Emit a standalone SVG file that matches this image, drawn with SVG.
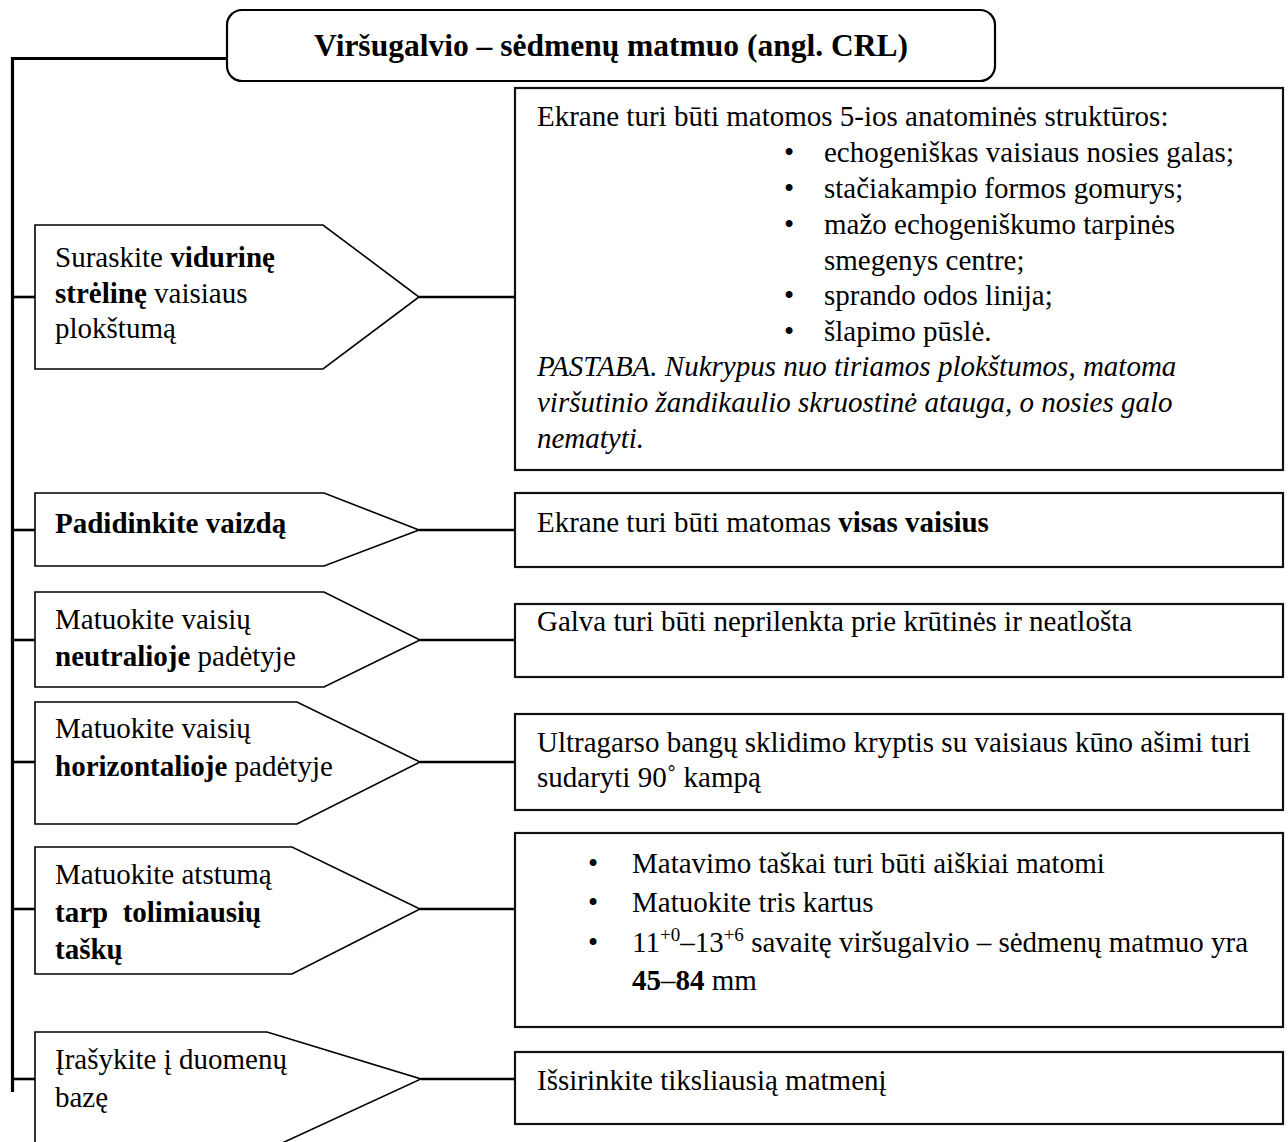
<svg xmlns="http://www.w3.org/2000/svg" width="1288" height="1142" viewBox="0 0 1288 1142">
<style>
text{font-family:"Liberation Serif","Times New Roman",serif;font-size:29px;fill:#000}
.b{font-weight:bold}
.i{font-style:italic}
.title{font-size:31.5px;font-weight:bold}
.step{fill:#fff;stroke:#000;stroke-width:1.6}
.box{fill:#fff;stroke:#111;stroke-width:2.2}
.conn{stroke:#000;stroke-width:2.6;fill:none}
.trunk{stroke:#000;stroke-width:3.2;fill:none}
.pre{white-space:pre}
</style>
<rect width="1288" height="1142" fill="#fff"/>
<g id="connectors">
<polyline class="trunk" points="227,58.5 12.5,58.5 12.5,1092"/>
<line class="conn" x1="12" y1="297" x2="36" y2="297"/>
<line class="conn" x1="419" y1="297" x2="515" y2="297"/>
<line class="conn" x1="12" y1="530" x2="36" y2="530"/>
<line class="conn" x1="419" y1="530" x2="515" y2="530"/>
<line class="conn" x1="12" y1="640" x2="36" y2="640"/>
<line class="conn" x1="420" y1="640" x2="515" y2="640"/>
<line class="conn" x1="12" y1="762" x2="36" y2="762"/>
<line class="conn" x1="420" y1="762" x2="515" y2="762"/>
<line class="conn" x1="12" y1="909" x2="36" y2="909"/>
<line class="conn" x1="420" y1="909" x2="515" y2="909"/>
<line class="conn" x1="12" y1="1079" x2="36" y2="1079"/>
<line class="conn" x1="421" y1="1079" x2="515" y2="1079"/>
</g>
<g id="title">
<rect x="227" y="10" width="768" height="71" rx="15" ry="15" fill="#fff" stroke="#000" stroke-width="2.2"/>
<text class="title" x="611" y="56" text-anchor="middle">Viršugalvio – sėdmenų matmuo (angl. CRL)</text>
</g>
<g id="step1">
<polygon class="step" points="35,225 323,225 419,297 323,369 35,369"/>
<text x="55" y="267">Suraskite <tspan class="b">vidurinę</tspan></text>
<text x="55" y="303"><tspan class="b">strėlinę</tspan> vaisiaus</text>
<text x="55" y="338">plokštumą</text>
</g>
<g id="note1">
<rect class="box" x="515" y="88" width="768" height="382"/>
<text x="537" y="126">Ekrane turi būti matomos 5-ios anatominės struktūros:</text>
<text x="784" y="162">•</text><text x="824" y="162">echogeniškas vaisiaus nosies galas;</text>
<text x="784" y="198">•</text><text x="824" y="198">stačiakampio formos gomurys;</text>
<text x="784" y="234">•</text><text x="824" y="234">mažo echogeniškumo tarpinės</text>
<text x="824" y="270">smegenys centre;</text>
<text x="784" y="305">•</text><text x="824" y="305">sprando odos linija;</text>
<text x="784" y="341">•</text><text x="824" y="341">šlapimo pūslė.</text>
<text class="i" x="537" y="376">PASTABA. Nukrypus nuo tiriamos plokštumos, matoma</text>
<text class="i" x="537" y="412">viršutinio žandikaulio skruostinė atauga, o nosies galo</text>
<text class="i" x="537" y="448">nematyti.</text>
</g>
<g id="step2">
<polygon class="step" points="35,493 324,493 419,530 324,566 35,566"/>
<text class="b" x="55" y="533">Padidinkite vaizdą</text>
</g>
<g id="note2">
<rect class="box" x="515" y="493" width="768" height="74"/>
<text x="537" y="532">Ekrane turi būti matomas <tspan class="b">visas vaisius</tspan></text>
</g>
<g id="step3">
<polygon class="step" points="35,592 324,592 420,640 324,687 35,687"/>
<text x="55" y="629">Matuokite vaisių</text>
<text x="55" y="666"><tspan class="b">neutralioje</tspan> padėtyje</text>
</g>
<g id="note3">
<rect class="box" x="515" y="604" width="768" height="73"/>
<text x="537" y="631">Galva turi būti neprilenkta prie krūtinės ir neatlošta</text>
</g>
<g id="step4">
<polygon class="step" points="35,702 297,702 420,762 297,824 35,824"/>
<text x="55" y="738">Matuokite vaisių</text>
<text x="55" y="776"><tspan class="b">horizontalioje</tspan> padėtyje</text>
</g>
<g id="note4">
<rect class="box" x="515" y="714" width="768" height="96"/>
<text x="537" y="752">Ultragarso bangų sklidimo kryptis su vaisiaus kūno ašimi turi</text>
<text x="537" y="787">sudaryti 90˚ kampą</text>
</g>
<g id="step5">
<polygon class="step" points="35,847 292,847 420,909 292,974 35,974"/>
<text x="55" y="884">Matuokite atstumą</text>
<text class="b pre" x="55" y="922">tarp  tolimiausių</text>
<text class="b" x="55" y="959">taškų</text>
</g>
<g id="note5">
<rect class="box" x="515" y="833" width="768" height="194"/>
<text x="588" y="873">•</text><text x="632" y="873">Matavimo taškai turi būti aiškiai matomi</text>
<text x="588" y="912">•</text><text x="632" y="912">Matuokite tris kartus</text>
<text x="588" y="952">•</text><text x="632" y="952">11<tspan font-size="19" dy="-11">+0</tspan><tspan dy="11">–13</tspan><tspan font-size="19" dy="-11">+6</tspan><tspan dy="11"> savaitę viršugalvio – sėdmenų matmuo yra</tspan></text>
<text x="632" y="990"><tspan class="b">45</tspan>–<tspan class="b">84</tspan> mm</text>
</g>
<g id="step6">
<polygon class="step" points="35,1032 267,1032 421,1079 267,1150 35,1150"/>
<text x="55" y="1069">Įrašykite į duomenų</text>
<text x="55" y="1107">bazę</text>
</g>
<g id="note6">
<rect class="box" x="515" y="1052" width="768" height="72"/>
<text x="537" y="1090">Išsirinkite tiksliausią matmenį</text>
</g>
</svg>
